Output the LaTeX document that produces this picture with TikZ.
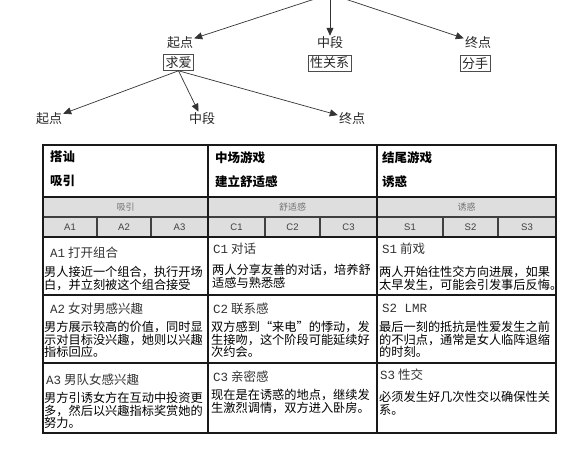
\documentclass[tikz,border=0pt]{standalone}
\usepackage{fontspec}
\setmainfont{Noto Sans CJK SC}
\newfontfamily\armfont{Liberation Sans}
\newfontfamily\codefont{Liberation Mono}
\usetikzlibrary{arrows.meta,positioning}
\tikzset{
  lbl/.style={inner sep=1pt, font=\fontsize{13}{14}\selectfont, text=black!85},
  tag/.style={draw=black!70, line width=0.6pt, inner sep=2pt,
              font=\fontsize{13}{14}\selectfont, text=black!85},
  arr/.style={-{Triangle[length=8pt,width=7pt]}, draw=black!80, line width=0.7pt},
  band/.style={fill=black!13, draw=none},
  bandtxt/.style={font=\fontsize{9}{10}\selectfont, text=black!55},
  subtxt/.style={font=\armfont\fontsize{9.5}{10}\selectfont, text=black!75},
  head/.style={anchor=north west, align=left, inner sep=0pt,
               font=\bfseries\fontsize{12.5}{24}\selectfont},
  ttl/.style={anchor=west, inner sep=0pt, font=\fontsize{12.5}{14}\selectfont,
              text=black!80},
  body/.style={anchor=north west, align=left, inner sep=0pt,
               font=\fontsize{12.2}{12.6}\selectfont},
  majorrule/.style={line width=2.2pt, draw=black!90},
  minorrule/.style={line width=1.1pt, draw=black!75},
}

\begin{document}
\begin{tikzpicture}[x=1pt, y=-1pt]
\useasboundingbox (0,0) rectangle (583,448);

% story arc
\coordinate (root) at (330,-6);
\node[lbl] (start) at (180,43) {起点};
\node[tag] (court) at (178.5,62.5) {求爱};
\node[lbl] (mid) at (330,43) {中段};
\node[tag] (sex) at (329.5,63) {性关系};
\node[lbl] (end) at (478,43) {终点};
\node[tag] (part) at (475,63.5) {分手};
\foreach \t in {start,mid,end}
  \draw[arr] (root) -- (\t);

\node[lbl] (cstart) at (49,119) {起点};
\node[lbl] (cmid) at (202,119) {中段};
\node[lbl] (cend) at (352,119) {终点};
\foreach \t in {cstart,cmid,cend}
  \draw[arr] (court.south) -- (\t);

% table
\fill[band] (43,197) rectangle (556,237);
\draw[minorrule] (43,217) -- (556,217);
\foreach \x in {97,151,265,320,443,498}
  \draw[minorrule] (\x,217) -- (\x,237);
\draw[majorrule] (43,145) rectangle (556,433);
\foreach \x in {208,377}
  \draw[majorrule] (\x,145) -- (\x,433);
\foreach \y in {197,237,295,363}
  \draw[majorrule] (43,\y) -- (556,\y);

\node[head] (hdA) at (50,151) {搭讪\\吸引};
\node[head] (hdC) at (215,151) {中场游戏\\建立舒适感};
\node[head] (hdS) at (382,151) {结尾游戏\\诱惑};

\node[bandtxt] (bandA) at (125.5,207) {吸引};
\node[bandtxt] (bandC) at (292.5,207) {舒适感};
\node[bandtxt] (bandS) at (466.5,207) {诱惑};
\foreach \x/\t in {70/A1,124/A2,179.5/A3,236.5/C1,292.5/C2,348.5/C3,
                   410/S1,470.5/S2,527/S3}
  \node[subtxt] (sub\t) at (\x,227) {\t};

\node[ttl] (tA1) at (50,253) {{\codefont A1} 打开组合};
\node[body] (bA1) at (44,266) {男人接近一个组合，执行开场\\白，并立刻被这个组合接受};
\node[ttl] (tC1) at (213,249) {{\codefont C1} 对话};
\node[body] (bC1) at (212,264) {两人分享友善的对话，培养舒\\适感与熟悉感};
\node[ttl] (tS1) at (382,249) {{\codefont S1} 前戏};
\node[body] (bS1) at (379,266) {两人开始往性交方向进展，如果\\太早发生，可能会引发事后反悔。};

\node[ttl] (tA2) at (50,309) {{\codefont A2} 女对男感兴趣};
\node[body] (bA2) at (44,321) {男方展示较高的价值，同时显\\示对目标没兴趣，她则以兴趣\\指标回应。};
\node[ttl] (tC2) at (213,309) {{\codefont C2} 联系感};
\node[body] (bC2) at (211,321) {双方感到“来电”的悸动，发\\生接吻，这个阶段可能延续好\\次约会。};
\node[ttl] (tS2) at (382,308) {{\codefont S2 LMR}};
\node[body] (bS2) at (379,321) {最后一刻的抵抗是性爱发生之前\\的不归点，通常是女人临阵退缩\\的时刻。};

\node[ttl] (tA3) at (46,380) {{\codefont A3} 男队女感兴趣};
\node[body] (bA3) at (44,392) {男方引诱女方在互动中投资更\\多，然后以兴趣指标奖赏她的\\努力。};
\node[ttl] (tC3) at (213,377) {{\codefont C3} 亲密感};
\node[body] (bC3) at (211,389) {现在是在诱惑的地点，继续发\\生激烈调情，双方进入卧房。};
\node[ttl] (tS3) at (380,375) {{\codefont S3} 性交};
\node[body] (bS3) at (379,391) {必须发生好几次性交以确保性关\\系。};

\end{tikzpicture}
\end{document}
